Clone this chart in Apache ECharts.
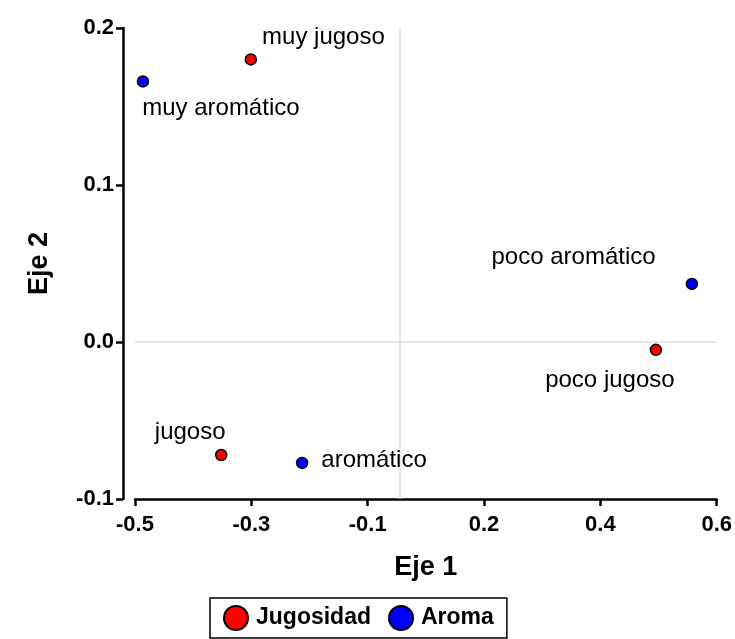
<!DOCTYPE html>
<html>
<head>
<meta charset="utf-8">
<script src="https://cdn.jsdelivr.net/npm/echarts@6/dist/echarts.min.js"></script>
<style>html,body{margin:0;padding:0;background:#fff;}#c{width:735px;height:639px;}</style>
</head>
<body>
<div id="c"></div>
<script>
// ---- data ----
const seriesNames = ['Jugosidad', 'Aroma'];
const jugosidadLabels = ['muy jugoso', 'poco jugoso', 'jugoso'];
const jugosidadX = [-0.281, 0.485, -0.337];
const jugosidadY = [0.180, -0.005, -0.072];
const aromaLabels = ['muy aromático', 'poco aromático', 'aromático'];
const aromaX = [-0.485, 0.553, -0.184];
const aromaY = [0.166, 0.037, -0.077];
const xTickValues = [-0.5, -0.28, -0.06, 0.16, 0.38, 0.6];
const xTickLabels = ['-0.5', '-0.3', '-0.1', '0.2', '0.4', '0.6'];
const yTickLabels = ['-0.1', '0.0', '0.1', '0.2'];

// ---- label placement (style only) ----
const place = {
  'muy jugoso': {position: 'right', offset: [0, -22]},
  'poco jugoso': {position: 'bottom', offset: [-46, 7]},
  'jugoso': {position: 'top', offset: [-31, 1]},
  'muy aromático': {position: 'right', offset: [-12, 27]},
  'poco aromático': {position: 'left', offset: [-25, -27]},
  'aromático': {position: 'right', offset: [8, -3]}
};
const FONT = 'Liberation Sans, Arial, sans-serif';

function build(xs, ys, labels) {
  return xs.map((x, i) => ({
    value: [x, ys[i]],
    name: labels[i],
    label: Object.assign({show: true, formatter: labels[i]}, place[labels[i]])
  }));
}

const chart = echarts.init(document.getElementById('c'), null, {renderer: 'canvas'});
const pointLabel = {color: '#000', fontFamily: FONT, fontSize: 24, distance: 5};
const option = {
  backgroundColor: '#fff',
  animation: false,
  grid: {left: 135, right: 18, top: 28, bottom: 140, containLabel: false},
  legend: {
    data: seriesNames,
    left: 210, top: 598,
    orient: 'horizontal',
    padding: [7, 13, 7, 13],
    itemGap: 17,
    itemWidth: 24, itemHeight: 24,
    icon: 'circle',
    borderColor: '#000', borderWidth: 1.5,
    textStyle: {fontFamily: FONT, fontSize: 23, fontWeight: 'bold', color: '#000', padding: [0, 0, 0, 3]}
  },
  xAxis: {
    type: 'value', min: -0.5, max: 0.6,
    name: 'Eje 1', nameLocation: 'middle', nameGap: 55,
    nameTextStyle: {fontFamily: FONT, fontSize: 27, fontWeight: 'bold', color: '#000'},
    axisLine: {show: true, onZero: false, lineStyle: {color: '#000', width: 2.5}},
    axisTick: {show: true, length: 7, lineStyle: {color: '#000', width: 2.5}, customValues: xTickValues},
    axisLabel: {
      customValues: xTickValues, margin: 15,
      fontFamily: FONT, fontSize: 22, fontWeight: 'bold', color: '#000',
      formatter: v => { const i = xTickValues.findIndex(t => Math.abs(t - v) < 1e-6); return i >= 0 ? xTickLabels[i] : ''; }
    },
    splitLine: {show: false}
  },
  yAxis: {
    type: 'value', min: -0.1, max: 0.2, interval: 0.1, offset: 12,
    name: 'Eje 2', nameLocation: 'middle', nameGap: 70, nameRotate: 90,
    nameTextStyle: {fontFamily: FONT, fontSize: 27, fontWeight: 'bold', color: '#000'},
    axisLine: {show: true, onZero: false, lineStyle: {color: '#000', width: 2.5}},
    axisTick: {show: true, length: 7, lineStyle: {color: '#000', width: 2.5}},
    axisLabel: {
      margin: 9, fontFamily: FONT, fontSize: 22, fontWeight: 'bold', color: '#000',
      formatter: v => { const i = Math.round((v + 0.1) / 0.1); return yTickLabels[i] ?? ''; }
    },
    splitLine: {show: false}
  },
  series: [
    {
      name: seriesNames[0], type: 'scatter', symbol: 'circle', symbolSize: 11, z: 3,
      itemStyle: {color: '#ff0000', borderColor: '#000', borderWidth: 1.5, opacity: 1},
      label: pointLabel,
      data: build(jugosidadX, jugosidadY, jugosidadLabels),
      markLine: {
        silent: true, symbol: ['none', 'none'], z: 1,
        label: {show: false},
        lineStyle: {color: '#dcdcdc', width: 1.5, type: 'solid'},
        data: [{xAxis: 0}, {yAxis: 0}]
      }
    },
    {
      name: seriesNames[1], type: 'scatter', symbol: 'circle', symbolSize: 11, z: 3,
      itemStyle: {color: '#0000ff', borderColor: '#000', borderWidth: 1.5, opacity: 1},
      label: pointLabel,
      data: build(aromaX, aromaY, aromaLabels)
    }
  ]
};
chart.setOption(option);
</script>
</body>
</html>
